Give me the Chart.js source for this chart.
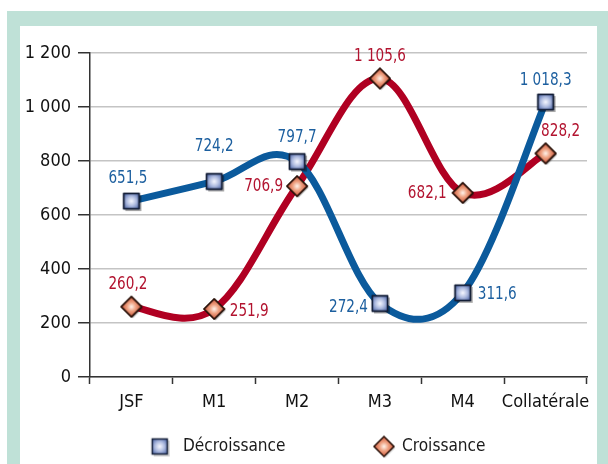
<!DOCTYPE html>
<html><head><meta charset="utf-8">
<script src="https://cdn.jsdelivr.net/npm/chart.js@4.4.1/dist/chart.umd.min.js"></script>
<style>
html,body{margin:0;padding:0;width:608px;height:464px;overflow:hidden;background:#fff;}
#frame{position:absolute;left:7px;top:11px;width:601px;height:453px;background:#bfe1d7;}
#inner{position:absolute;left:20px;top:26px;width:577px;height:438px;background:#fff;}
#wrap{position:absolute;left:0;top:0;width:608px;height:464px;}
</style></head><body>
<div id="frame"></div><div id="inner"></div>
<div id="wrap"><canvas id="c" width="608" height="464"></canvas></div>
<script>
// ---- data ----
const categories = ['JSF', 'M1', 'M2', 'M3', 'M4', 'Collatérale'];
const decroissance = [651.5, 724.2, 797.7, 272.4, 311.6, 1018.3];
const croissance = [260.2, 251.9, 706.9, 1105.6, 682.1, 828.2];
const seriesNames = ['Décroissance', 'Croissance'];
const yTickValues = [0, 200, 400, 600, 800, 1000, 1200];

// ---- styling / placement ----
const FONT = "'DejaVu Sans Condensed','Liberation Sans Narrow',sans-serif";
const BLUE_LINE = '#0b5a9c', RED_LINE = '#b00022';
const BLUE_TEXT = '#1c5f9f', RED_TEXT = '#b2132f';
// [dx, dy, align] per point
const labelPlacement = [
  [[-3.5,-23,'center'],[0,-35,'center'],[0,-24,'center'],[-12,3.5,'right'],[15,1,'left'],[0,-22,'center']],
  [[-3.5,-22,'center'],[15.5,2,'left'],[-14,0,'right'],[0,-22,'center'],[-16,0,'right'],[15,-22,'center']]
];
const legendLayout = { y: 446.5, marker: [159.7, 384], text: [183, 402] };
const SMOOTH = 0.18;

function frNum(v, dec) {
  const s = v.toFixed(dec).split('.');
  const i = s[0].replace(/\B(?=(\d{3})+(?!\d))/g, ' ');
  return s.length > 1 ? i + ',' + s[1] : i;
}

function makeSquare() {
  const c = document.createElement('canvas'); c.width = 24; c.height = 24;
  const g = c.getContext('2d');
  g.fillStyle = 'rgba(0,0,0,0.18)'; g.fillRect(6, 6, 16, 16);
  const gr = g.createRadialGradient(12, 12, 0, 12, 12, 10);
  gr.addColorStop(0, '#f7f8ff'); gr.addColorStop(0.45, '#b4c0e2'); gr.addColorStop(1, '#4f68aa');
  g.fillStyle = gr; g.fillRect(4.5, 4.5, 15, 15);
  g.strokeStyle = '#141f38'; g.lineWidth = 1.5; g.strokeRect(4.5, 4.5, 15, 15);
  return c;
}
function makeDiamond() {
  const c = document.createElement('canvas'); c.width = 28; c.height = 28;
  const g = c.getContext('2d');
  g.fillStyle = 'rgba(0,0,0,0.15)';
  g.beginPath(); g.moveTo(15.5, 5.5); g.lineTo(25.5, 15.5); g.lineTo(15.5, 25.5); g.lineTo(5.5, 15.5); g.closePath(); g.fill();
  const gr = g.createRadialGradient(14, 14, 0, 14, 14, 10);
  gr.addColorStop(0, '#fff4ec'); gr.addColorStop(0.45, '#eea080'); gr.addColorStop(1, '#c9553a');
  g.beginPath(); g.moveTo(14, 4); g.lineTo(24, 14); g.lineTo(14, 24); g.lineTo(4, 14); g.closePath();
  g.fillStyle = gr; g.fill();
  g.strokeStyle = '#2a120a'; g.lineWidth = 1.5; g.stroke();
  return c;
}
const squareImg = makeSquare();
const diamondImg = makeDiamond();

// spreadsheet-style smoothing of the bezier handles around the library-placed points
const sheetSmooth = {
  id: 'sheetSmooth',
  beforeDatasetDraw(chart, args) {
    const line = args.meta.dataset;
    const pts = args.meta.data;
    if (!line || pts.length < 2) return;
    const n = pts.length;
    for (let i = 0; i < n - 1; i++) {
      const p1 = pts[i], p2 = pts[i + 1];
      const p0 = i > 0 ? pts[i - 1] : p1;
      const p3 = i < n - 2 ? pts[i + 2] : p2;
      const half = Math.hypot(p2.x - p1.x, p2.y - p1.y) / 2;
      let vx = (p2.x - p0.x) * SMOOTH, vy = (p2.y - p0.y) * SMOOTH;
      let len = Math.hypot(vx, vy);
      if (len > half) { vx *= half / len; vy *= half / len; }
      p1.cp2x = p1.x + vx; p1.cp2y = p1.y + vy;
      let wx = (p3.x - p1.x) * SMOOTH, wy = (p3.y - p1.y) * SMOOTH;
      len = Math.hypot(wx, wy);
      if (len > half) { wx *= half / len; wy *= half / len; }
      p2.cp1x = p2.x - wx; p2.cp1y = p2.y - wy;
    }
    line._pointsUpdated = true;
    line._path = undefined;
  }
};

// markers above both lines, then value labels
const valueLabels = {
  id: 'valueLabels',
  afterDatasetsDraw(chart) {
    const ctx = chart.ctx;
    [1, 0].forEach(di => {
      chart.getDatasetMeta(di).data.forEach(el => el.draw(ctx, chart.chartArea));
    });
    ctx.save();
    ctx.font = '18px ' + FONT;
    ctx.textBaseline = 'middle';
    const sx = 0.84;
    chart.data.datasets.forEach((ds, di) => {
      const meta = chart.getDatasetMeta(di);
      ctx.fillStyle = di === 0 ? BLUE_TEXT : RED_TEXT;
      meta.data.forEach((pt, j) => {
        const p = labelPlacement[di][j];
        ctx.save();
        ctx.translate(pt.x + p[0], pt.y + p[1]);
        ctx.scale(sx, 1);
        ctx.textAlign = p[2];
        ctx.fillText(frNum(ds.data[j], 1), 0, 0);
        ctx.restore();
      });
    });
    ctx.restore();
  }
};

const customLegend = {
  id: 'customLegend',
  afterDraw(chart) {
    const ctx = chart.ctx;
    ctx.save();
    ctx.font = '18px ' + FONT;
    ctx.textBaseline = 'middle';
    ctx.textAlign = 'left';
    ctx.fillStyle = '#1a1a1a';
    chart.data.datasets.forEach((ds, i) => {
      const img = ds.pointStyle;
      ctx.drawImage(img, legendLayout.marker[i] - img.width / 2, legendLayout.y - img.height / 2);
      ctx.save();
      ctx.translate(legendLayout.text[i], legendLayout.y);
      ctx.scale(0.95, 1);
      ctx.fillText(ds.label, 0, 0);
      ctx.restore();
    });
    ctx.restore();
  }
};

Chart.defaults.font.family = FONT;
Chart.defaults.font.size = 18;
Chart.defaults.color = '#111';

new Chart(document.getElementById('c'), {
  type: 'line',
  data: {
    labels: categories,
    datasets: [
      { label: seriesNames[0], data: decroissance, borderColor: BLUE_LINE, borderWidth: 7,
        tension: 0.4, pointStyle: squareImg, pointRadius: 8, clip: false, borderJoinStyle: 'round' },
      { label: seriesNames[1], data: croissance, borderColor: RED_LINE, borderWidth: 7,
        tension: 0.4, pointStyle: diamondImg, pointRadius: 8, clip: false, borderJoinStyle: 'round' }
    ]
  },
  options: {
    responsive: false,
    animation: false,
    devicePixelRatio: 1,
    layout: { padding: { left: 0, right: 21, top: 53, bottom: 0 } },
    plugins: { legend: { display: false }, tooltip: { enabled: false } },
    scales: {
      x: {
        offset: true,
        grid: { offset: true, drawOnChartArea: false, drawTicks: true, tickLength: 7, tickColor: '#333', tickWidth: 1.5 },
        border: { color: '#333', width: 1.5 },
        ticks: { padding: 8, color: '#111', font: { size: 18 }, maxRotation: 0, autoSkip: false },
        afterFit(s) { s.height = 87; }
      },
      y: {
        min: 0, max: 1200,
        afterBuildTicks(s) { s.ticks = yTickValues.map(v => ({ value: v })); },
        grid: { color: '#c4c4c4', lineWidth: 1.5, drawTicks: true, tickLength: 12, tickColor: '#333', tickWidth: 1.5 },
        border: { color: '#333', width: 1.5 },
        ticks: { padding: 7, color: '#111', font: { size: 18 }, callback: v => frNum(v, 0) },
        afterFit(s) { s.width = 90; }
      }
    }
  },
  plugins: [sheetSmooth, valueLabels, customLegend]
});
</script>
</body></html>
